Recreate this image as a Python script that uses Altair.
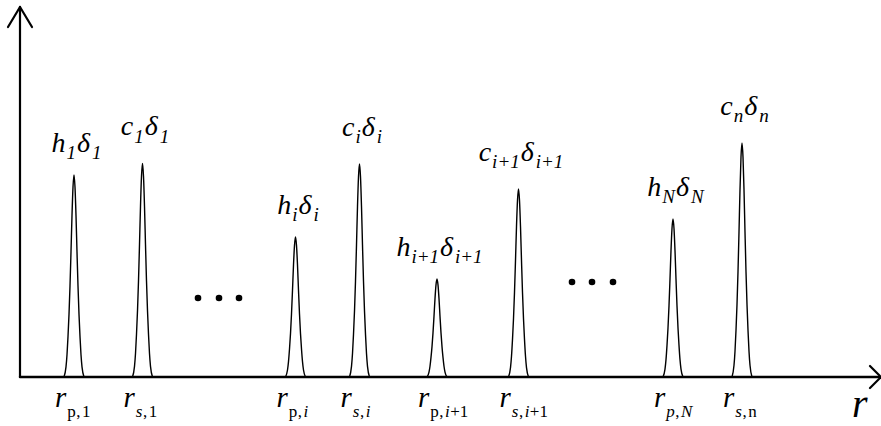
import altair as alt
import pandas as pd

# ---------------- data ----------------
# peak positions along r (pixel-like units from the origin) and peak heights
PEAK_ID = ["h1", "c1", "hi", "ci", "hi1", "ci1", "hN", "cn"]
PEAK_R = [54, 122.5, 275.5, 339.5, 417, 498.5, 653, 722]
PEAK_H = [202, 213.5, 140, 213, 98, 188, 158, 234]

# common pulse profile (offset from peak centre, fraction of the peak height)
PULSE_OFFSET = [-10, -8, -7, -6, -5, -4, -3, -2, -1, 0, 1, 2, 3, 4, 5, 6, 7, 8, 10]
PULSE_SHAPE = [0.0, 0.05, 0.11, 0.2, 0.31, 0.45, 0.62, 0.8, 0.94, 1.0,
               0.94, 0.8, 0.62, 0.45, 0.31, 0.2, 0.11, 0.05, 0.0]

# labels above the peaks: coefficient letter and index
TOP_MAIN = ["h", "c", "h", "c", "h", "c", "h", "c"]
TOP_SUB = ["1", "1", "i", "i", "i+1", "i+1", "N", "n"]

# labels under the peaks: subscript pieces (text, italic?)
BOTTOM_SUB = [
    [("p", False), (",", False), ("1", False)],
    [("s", True), (",", False), ("1", False)],
    [("p", False), (",", False), ("i", True)],
    [("s", True), (",", False), ("i", True)],
    [("p", False), (",", False), ("i", True), ("+1", False)],
    [("s", True), (",", False), ("i", True), ("+1", False)],
    [("p", True), (",", False), ("N", True)],
    [("s", True), (",", False), ("n", False)],
]

# ellipsis dots
DOTS_R = [178, 199, 219, 552, 572, 593]
DOTS_Y = [79, 79, 79, 95, 95, 95]

X_MAX = 861
Y_MAX = 370
FONT = "Liberation Serif"

# ---------------- text metrics (Times-like, per em) ----------------
W_IT = {"h": .5, "c": .444, "δ": .5, "1": .5, "i": .278, "+": .675, "N": .667,
        "n": .5, "p": .5, "s": .389, ",": .25, "r": .389}
W_RM = {"p": .5, ",": .25, "1": .5, "+": .564, "n": .5, "i": .278}


def width(txt, size, italic=True):
    tab = W_IT if italic else W_RM
    return sum(tab.get(ch, .5) for ch in txt) * size


# ---------------- build tables ----------------
rows = []
for pid, r, h in zip(PEAK_ID, PEAK_R, PEAK_H):
    for o, s in zip(PULSE_OFFSET, PULSE_SHAPE):
        rows.append({"peak": pid, "r": r + o, "v": h * s})
peaks = pd.DataFrame(rows)

texts = []


def put(x, base, t, size, it):
    # text drawn with a "middle" baseline: centre sits 0.3 em above the alphabetic baseline
    texts.append({"r": x, "v": base + 0.3 * size, "t": t, "size": size, "it": it})


MAIN_SIZE, SUB_SIZE = 28, 19
for main, sub, r, h in zip(TOP_MAIN, TOP_SUB, PEAK_R, PEAK_H):
    gap = 23 if main == "h" else 28
    pieces = [(main, MAIN_SIZE, 0), (sub, SUB_SIZE, -7), ("δ", MAIN_SIZE, 0), (sub, SUB_SIZE, -7)]
    total = sum(width(t, s) + 1.0 for t, s, _ in pieces)
    x = r + 3 - total / 2
    for t, s, dy in pieces:
        put(x, h + gap + dy, t, s, True)
        x += width(t, s) + 1.0

R_SIZE, RS_SIZE = 29, 17
for parts, r in zip(BOTTOM_SUB, PEAK_R):
    x = r - 19
    put(x, -30, "r", R_SIZE, True)
    x += width("r", R_SIZE) + 1
    for t, it in parts:
        put(x, -40, t, RS_SIZE, it)
        x += width(t, RS_SIZE, it) + (0.5 if t != "," else 1.5)

put(832, -40, "r", 40, True)
texts = pd.DataFrame(texts)

dots = pd.DataFrame({"r": DOTS_R, "v": DOTS_Y})

# axis lines plus the open arrow heads (two short strokes at each axis end)
AX = 11   # arrow-head half spread (x axis)
AY = 12   # arrow-head half spread (y axis)
segs = pd.DataFrame([
    {"x0": 0, "x1": X_MAX, "y0": 0, "y1": 0, "w": 2.5},
    {"x0": 0, "x1": 0, "y0": 0, "y1": Y_MAX, "w": 2.2},
    {"x0": X_MAX - AX, "x1": X_MAX, "y0": AX, "y1": 0, "w": 2.2},
    {"x0": X_MAX - AX, "x1": X_MAX, "y0": -AX, "y1": 0, "w": 2.2},
    {"x0": -AY, "x1": 0, "y0": Y_MAX - 20, "y1": Y_MAX, "w": 2.2},
    {"x0": AY, "x1": 0, "y0": Y_MAX - 20, "y1": Y_MAX, "w": 2.2},
])

xs = alt.Scale(domain=[0, X_MAX], nice=False, zero=False)
ys = alt.Scale(domain=[0, Y_MAX], nice=False, zero=False)

# ---------------- layers ----------------
axes_layer = alt.Chart(segs).mark_rule(color="black", strokeCap="round").encode(
    x=alt.X("x0:Q", scale=xs, axis=None), x2="x1:Q",
    y=alt.Y("y0:Q", scale=ys, axis=None), y2="y1:Q",
    strokeWidth=alt.StrokeWidth("w:Q", scale=None, legend=None))

pulses = alt.Chart(peaks).mark_line(color="black", strokeWidth=1.4,
                                    interpolate="monotone").encode(
    x=alt.X("r:Q", scale=xs, axis=None),
    y=alt.Y("v:Q", scale=ys, axis=None),
    detail="peak:N")

dot_layer = alt.Chart(dots).mark_circle(size=44, color="black", opacity=1).encode(
    x=alt.X("r:Q", scale=xs, axis=None), y=alt.Y("v:Q", scale=ys, axis=None))

text_layers = []
for (it, size), grp in texts.groupby(["it", "size"]):
    sub = grp[["r", "v", "t"]].reset_index(drop=True)
    text_layers.append(
        alt.Chart(sub).mark_text(
            font=FONT, fontStyle="italic" if it else "normal",
            fontSize=int(size), align="left").encode(
            x=alt.X("r:Q", scale=xs, axis=None),
            y=alt.Y("v:Q", scale=ys, axis=None),
            text="t:N"))

chart = alt.layer(
    *text_layers, pulses, axes_layer, dot_layer
).properties(
    width=X_MAX, height=Y_MAX,
    padding={"left": 20, "top": 7, "right": 0, "bottom": 49},
    autosize=alt.AutoSizeParams(type="none"),
    background="white",
).configure_view(stroke=None)

chart.save("out.html", embed_options={"renderer": "svg", "actions": False})
